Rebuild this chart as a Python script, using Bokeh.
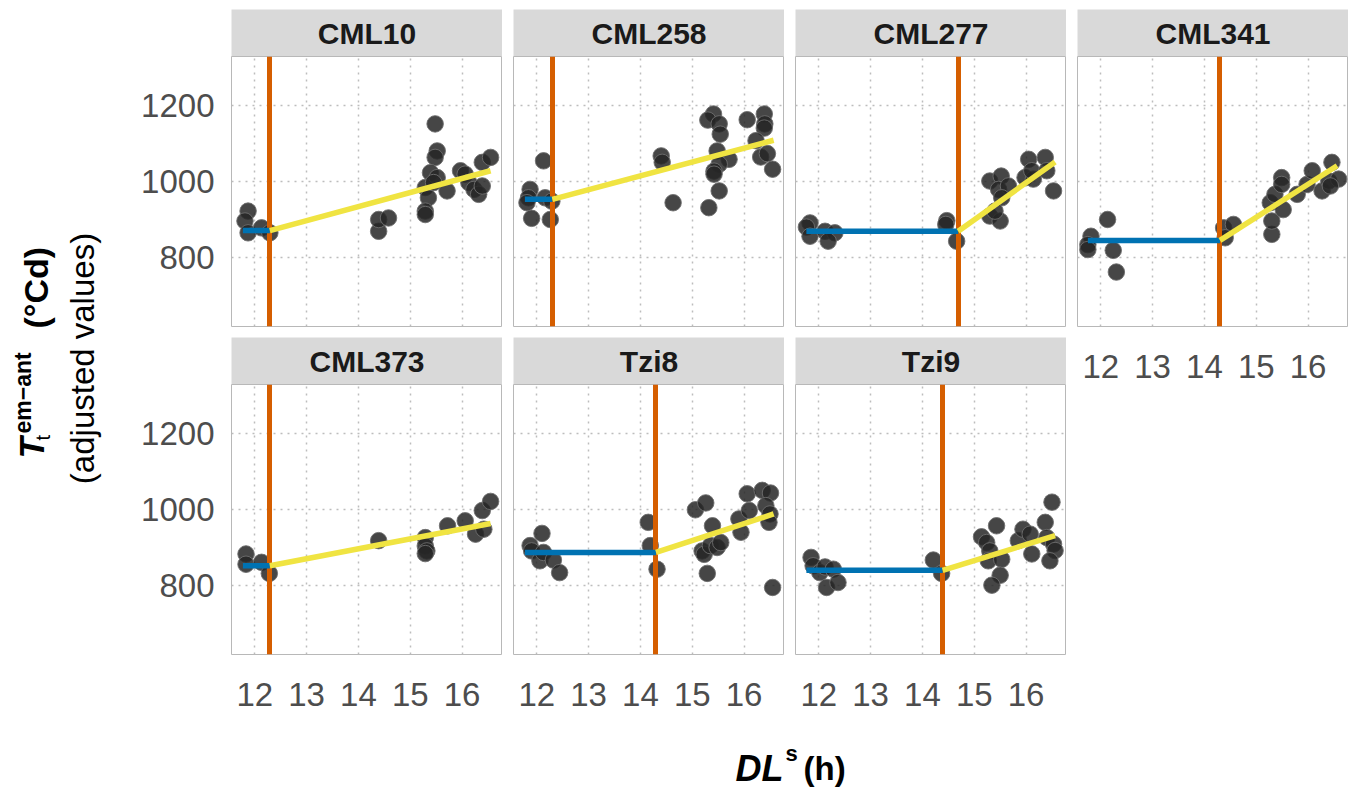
import math
from bokeh.plotting import figure
from bokeh.layouts import row, column
from bokeh.models import Range1d, FixedTicker, Label, ColumnDataSource
from bokeh.embed import file_html
from bokeh.resources import INLINE

# ---------------- data ----------------
genotypes = ["CML10", "CML258", "CML277", "CML341", "CML373", "Tzi8", "Tzi9"]

cml10_x = [11.87, 11.81, 11.87, 12.13, 12.29, 14.39, 14.39, 14.58, 15.48, 15.52, 15.48, 15.39, 15.52, 15.29,
           15.35, 15.29, 15.29, 15.71, 15.45, 15.97, 16.06, 16.13, 16.23, 16.32, 16.39, 16.39, 16.55]
cml10_y = [923, 897, 866, 879, 866, 870, 901, 905, 1152, 1081, 1064, 1024, 1011, 985,
           958, 923, 914, 976, 998, 1029, 1020, 998, 980, 967, 989, 1051, 1064]
cml258_x = [11.87, 11.84, 11.81, 12.13, 12.16, 12.29, 11.90, 12.26, 14.40, 14.42, 14.63, 15.32, 15.52, 15.41,
            15.30, 15.52, 15.54, 15.48, 15.71, 15.52, 15.42, 15.42, 16.06, 16.39, 16.40, 16.39, 16.23, 16.32,
            16.45, 16.55]
cml258_y = [980, 958, 945, 1055, 958, 949, 904, 901, 1068, 1051, 945, 932, 976, 1178,
            1162, 1152, 1125, 1081, 1059, 1046, 1028, 1020, 1163, 1178, 1152, 1141, 1108, 1065,
            1074, 1033]
cml277_x = [11.83, 11.76, 11.83, 12.12, 12.31, 12.18, 14.47, 14.45, 14.66, 15.30, 15.52, 15.47, 15.66, 15.53,
            15.30, 15.50, 15.40, 16.05, 16.37, 15.98, 16.14, 16.11, 16.40, 16.53]
cml277_y = [892, 881, 857, 870, 866, 844, 898, 888, 844, 1002, 1015, 980, 989, 958,
            910, 897, 923, 1059, 1064, 1011, 1007, 1029, 1029, 976]
cml341_x = [11.81, 11.75, 11.75, 12.13, 12.24, 12.30, 14.37, 14.56, 14.40, 15.30, 15.30, 15.27, 15.36, 15.49,
            15.49, 15.52, 15.79, 15.98, 16.08, 16.27, 16.40, 16.46, 16.59, 16.43]
cml341_y = [857, 835, 822, 901, 820, 763, 879, 888, 853, 862, 897, 945, 967, 1011,
            993, 927, 967, 993, 1029, 976, 1002, 1051, 1007, 989]
cml373_x = [11.83, 11.83, 12.13, 12.28, 14.39, 15.29, 15.29, 15.32, 15.29, 15.72, 16.06, 16.26, 16.42, 16.39,
            16.55]
cml373_y = [884, 857, 862, 833, 919, 927, 905, 892, 885, 958, 971, 936, 949, 998,
            1022]
tzi8_x = [11.87, 11.90, 12.10, 12.06, 12.13, 12.32, 12.44, 14.15, 14.19, 14.32, 15.06, 15.26, 15.39, 15.19,
          15.23, 15.35, 15.48, 15.55, 15.29, 15.90, 15.94, 16.06, 16.10, 16.35, 16.51, 16.42, 16.50, 16.48,
          16.55]
tzi8_y = [906, 892, 938, 866, 888, 868, 835, 967, 906, 844, 1000, 1018, 958, 892,
          883, 906, 901, 914, 833, 976, 941, 1042, 998, 1051, 1044, 1011, 989, 967,
          796]
tzi9_x = [11.85, 11.89, 12.02, 12.12, 12.28, 12.15, 12.37, 14.21, 14.37, 15.14, 15.24, 15.43, 15.30, 15.27,
          15.53, 15.50, 15.34, 15.85, 15.94, 16.08, 16.11, 16.37, 16.50, 16.40, 16.53, 16.56, 16.46]
tzi9_y = [875, 853, 835, 850, 844, 796, 809, 868, 833, 929, 914, 958, 892, 866,
          870, 828, 802, 919, 949, 936, 884, 967, 1020, 927, 910, 893, 866]

points_x = [cml10_x, cml258_x, cml277_x, cml341_x, cml373_x, tzi8_x, tzi9_x]
points_y = [cml10_y, cml258_y, cml277_y, cml341_y, cml373_y, tzi8_y, tzi9_y]

# broken-stick fit per genotype
breakpoint_x = [12.29, 12.30, 14.69, 14.30, 12.29, 14.30, 14.39]
plateau_y = [872, 954, 870, 846, 853, 888, 841]
line_start_x = [11.77, 11.77, 11.76, 11.75, 11.77, 11.77, 11.76]
line_end_x = [16.55, 16.57, 16.56, 16.56, 16.55, 16.57, 16.56]
line_end_y = [1029, 1109, 1052, 1042, 964, 989, 932]

x_ticks = [12, 13, 14, 15, 16]
y_ticks = [800, 1000, 1200]

# ---------------- style ----------------
FONT = "Liberation Sans"
FW, FH = 271, 270
SH = 47
GAP = 11
TOP_PAD = 9
LEFT_COL = 103
BOTTOM_AX = 66
TICK_SIZE = "33px"
X_RANGE = (11.55, 16.78)
Y_RANGE = (620, 1329)
BASE_FIX = 11  # correction between measured glyph baseline and Bokeh's alphabetic anchor


def strip_fig(name, left_border, top_border):
    s = figure(frame_width=FW, frame_height=SH, x_range=Range1d(0, 1), y_range=Range1d(0, 1),
               x_axis_location=None, y_axis_location=None, toolbar_location=None,
               output_backend="svg", min_border=0, min_border_left=left_border,
               min_border_top=top_border)
    s.background_fill_color = "#d9d9d9"
    s.border_fill_color = "white"
    s.outline_line_color = None
    s.grid.visible = False
    s.add_layout(Label(x=0.5, y=0.5, text=name, text_align="center", text_baseline="middle",
                       text_font_size="30px", text_font_style="bold", text_color="#1a1a1a",
                       text_font=FONT))
    return s


def panel_fig(i, show_x, show_y, left_border, bottom_border):
    p = figure(frame_width=FW, frame_height=FH,
               x_range=Range1d(*X_RANGE), y_range=Range1d(*Y_RANGE),
               x_axis_location="below" if show_x else None,
               y_axis_location="left" if show_y else None,
               toolbar_location=None, output_backend="svg",
               min_border=0, min_border_left=left_border, min_border_bottom=bottom_border)
    p.background_fill_color = "white"
    p.border_fill_color = "white"
    p.outline_line_color = "#b8b8b8"
    p.outline_line_width = 1
    p.xgrid.ticker = FixedTicker(ticks=x_ticks)
    p.ygrid.ticker = FixedTicker(ticks=y_ticks)
    for g in (p.xgrid, p.ygrid):
        g.grid_line_color = "#bdbdbd"
        g.grid_line_width = 1.5
        g.grid_line_dash = "2 5"
    p.xgrid.minor_grid_line_color = None
    p.ygrid.minor_grid_line_color = None
    if show_x:
        ax = p.xaxis[0]
        ax.ticker = FixedTicker(ticks=x_ticks)
        ax.axis_line_color = None
        ax.major_tick_line_color = None
        ax.minor_tick_line_color = None
        ax.major_label_standoff = 22
        ax.major_label_text_font_size = TICK_SIZE
        ax.major_label_text_color = "#4d4d4d"
        ax.major_label_text_font = FONT
    if show_y:
        ay = p.yaxis[0]
        ay.ticker = FixedTicker(ticks=y_ticks)
        ay.axis_line_color = None
        ay.major_tick_line_color = None
        ay.minor_tick_line_color = None
        ay.major_label_standoff = 11
        ay.major_label_text_font_size = TICK_SIZE
        ay.major_label_text_color = "#4d4d4d"
        ay.major_label_text_font = FONT

    src = ColumnDataSource(dict(x=points_x[i], y=points_y[i]))
    p.scatter("x", "y", source=src, size=16.5, marker="circle",
              fill_color="#262626", fill_alpha=0.85, line_color="#6e6e6e", line_alpha=0.9, line_width=1)
    p.vspan(x=[breakpoint_x[i]], line_color="#D55E00", line_width=5)
    p.segment(x0=[line_start_x[i]], y0=[plateau_y[i]], x1=[breakpoint_x[i]], y1=[plateau_y[i]],
              line_color="#0072B2", line_width=5.5)
    p.segment(x0=[breakpoint_x[i]], y0=[plateau_y[i]], x1=[line_end_x[i]], y1=[line_end_y[i]],
              line_color="#F0E442", line_width=5.5)
    return p


col1 = column(
    strip_fig(genotypes[0], LEFT_COL, TOP_PAD),
    panel_fig(0, False, True, LEFT_COL, GAP),
    strip_fig(genotypes[4], LEFT_COL, 0),
    panel_fig(4, True, True, LEFT_COL, BOTTOM_AX),
)
col2 = column(
    strip_fig(genotypes[1], GAP, TOP_PAD),
    panel_fig(1, False, False, GAP, GAP),
    strip_fig(genotypes[5], GAP, 0),
    panel_fig(5, True, False, GAP, BOTTOM_AX),
)
col3 = column(
    strip_fig(genotypes[2], GAP, TOP_PAD),
    panel_fig(2, False, False, GAP, GAP),
    strip_fig(genotypes[6], GAP, 0),
    panel_fig(6, True, False, GAP, BOTTOM_AX),
)
col4 = column(
    strip_fig(genotypes[3], GAP, TOP_PAD),
    panel_fig(3, True, False, GAP, BOTTOM_AX),
)

TOP_H = TOP_PAD + SH + FH + GAP + SH + FH + BOTTOM_AX  # 720
YT_W = 128

# y-axis title (rotated, composed rich text); positions in page pixels
yt = figure(frame_width=YT_W, frame_height=TOP_H, x_range=Range1d(0, YT_W), y_range=Range1d(0, TOP_H),
            x_axis_location=None, y_axis_location=None, toolbar_location=None,
            output_backend="svg", min_border=0)
yt.outline_line_color = None
yt.grid.visible = False
ang = math.pi / 2


def ylab(px, py, text, size, style, align="left"):
    yt.add_layout(Label(x=px - BASE_FIX, y=TOP_H - py, text=text, angle=ang, text_align=align,
                        text_baseline="alphabetic", text_font_size=size, text_font_style=style,
                        text_color="#000000", text_font=FONT))


ylab(42, 458, "T", "35px", "bold italic")
ylab(53, 440, "t", "20px", "normal")
ylab(33, 433, "em\u2212ant", "23px", "bold")
ylab(46, 328, "(°Cd)", "34px", "bold")
ylab(93, 358, "(adjusted values)", "33px", "normal", align="center")

# x-axis title
TOTAL_W = YT_W + LEFT_COL + FW + 3 * (GAP + FW)
XT_H = 68
xt = figure(frame_width=TOTAL_W, frame_height=XT_H, x_range=Range1d(0, TOTAL_W), y_range=Range1d(0, XT_H),
            x_axis_location=None, y_axis_location=None, toolbar_location=None,
            output_backend="svg", min_border=0)
xt.outline_line_color = None
xt.grid.visible = False


def xlab(px, py, text, size, style):
    xt.add_layout(Label(x=px, y=TOP_H + XT_H - (py - BASE_FIX), text=text, text_align="left",
                        text_baseline="alphabetic", text_font_size=size, text_font_style=style,
                        text_color="#000000", text_font=FONT))


xlab(735, 779, "DL", "36px", "bold italic")
xlab(785, 764, "s", "22px", "bold")
xlab(803, 779, "(h)", "33px", "bold")

top = row(yt, col1, col2, col3, col4)
layout = column(top, xt)

open("out.html", "w").write(file_html(layout, INLINE))
